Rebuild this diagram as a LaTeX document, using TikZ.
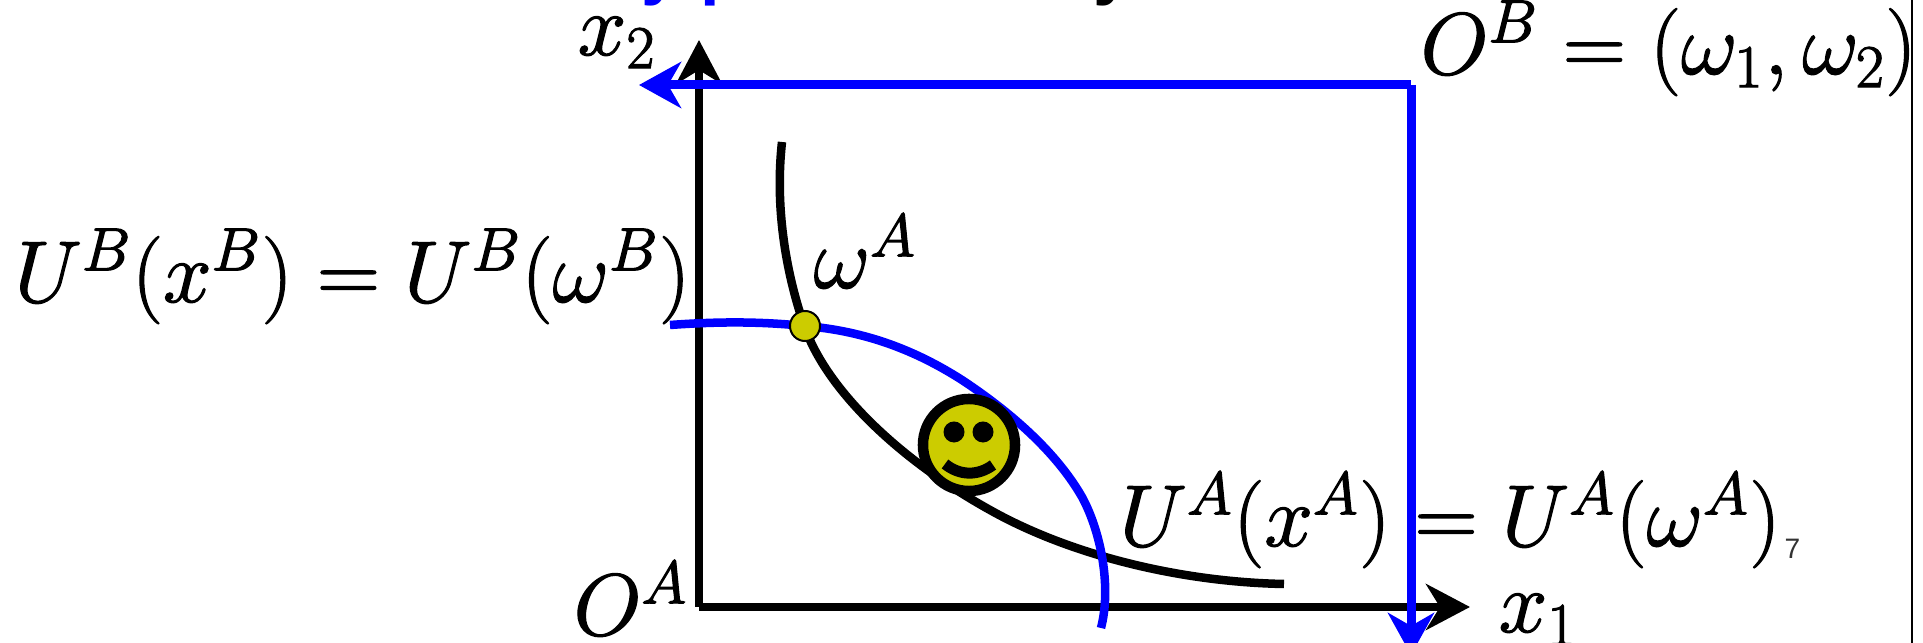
\documentclass[tikz,border=0pt]{standalone}
\usepackage{amsmath}
\usepackage{fontspec}
\setsansfont{Liberation Sans}
\usetikzlibrary{arrows.meta}

\definecolor{smiley}{RGB}{204,204,0}

\begin{document}
\begin{tikzpicture}[
  x=0.01cm, y=-0.01cm,
  axis/.style={-{Stealth[length=0.44cm,width=0.46cm,inset=0.14cm]}, line width=0.085cm, black},
  budget/.style={-{Stealth[length=0.42cm,width=0.46cm,inset=0.13cm]}, line width=0.09cm, blue},
  curve/.style={line width=0.085cm},
  lbl/.style={anchor=base west, inner sep=0pt, font=\fontsize{24}{28}\selectfont\special{pdf:code 2 Tr 0.35 w}},
  title/.style={anchor=base west, inner sep=0pt, font=\sffamily\bfseries\fontsize{20}{24}\selectfont},
  eye/.style={circle, fill=black, minimum size=0.21cm, inner sep=0pt}
]
\useasboundingbox (0,0) rectangle (1923,643);

%% Corners of the box
\coordinate (OA)  at (699,607);
\coordinate (x1)  at (1470,607);
\coordinate (x2)  at (699,40);
\coordinate (OB)  at (1411,85);
\coordinate (topend) at (639,85);
\coordinate (botend) at (1411,655);

%% Clipped title and page edge
\node[title, text=blue] at (641,-8)  (titlea) {y};
\node[title, text=blue] at (700,-8)  (titleb) {p};
\node[title]            at (1093,-8) (titlec) {y};
\draw[line width=0.02cm] (1912,0) -- (1912,643);

%% Axes
\draw[axis] (OA) -- (x2);
\draw[axis] (OA) -- (x1);
\draw[budget] (OB) -- (topend);
\draw[budget] (OB) -- (botend);

%% Indifference curves
\draw[curve, black] (782,142) .. controls (775,205) and (785,270) .. (804,325)
  .. controls (826,390) and (900,460) .. (990,510)
  .. controls (1070,555) and (1180,582) .. (1284,584);
\draw[curve, blue] (670,325) .. controls (725,321) and (765,322) .. (805,326)
  .. controls (865,331) and (915,350) .. (962,380)
  .. controls (1015,415) and (1058,455) .. (1082,497)
  .. controls (1100,530) and (1112,585) .. (1101,628);

%% Endowment point
\node[circle, draw, line width=0.02cm, fill=smiley, minimum size=0.3cm, inner sep=0pt] at (805,326) (endow) {};

%% Smiley
\node[circle, draw, line width=0.105cm, fill=smiley, minimum size=0.92cm, inner sep=0pt, outer sep=0pt] at (969,445) (face) {};
\node[eye] at (954,432) (eyel) {};
\node[eye] at (983,432) (eyer) {};
\draw[line width=0.11cm] (945,464) .. controls (960,476) and (978,476) .. (993,465);

%% Labels
\node[lbl] at (577,55)   (lx2)  {$x_2$};
\node[lbl] at (1420,74)  (lOB)  {$O^B=(\omega_1,\omega_2)$};
\node[lbl] at (14,302)   (lUB)  {$U^B(x^B)=U^B(\omega^B)$};
\node[lbl] at (813,288)  (lwA)  {$\omega^A$};
\node[lbl] at (1119,546) (lUA)  {$U^A(x^A)=U^A(\omega^A)$};
\node[lbl] at (573,635)  (lOA)  {$O^A$};
\node[lbl] at (1498,632) (lx1)  {$x_1$};
\node[anchor=base west, inner sep=0pt, font=\sffamily\fontsize{8}{10}\selectfont, text=black!80] at (1784,559) (page) {7};
\end{tikzpicture}
\end{document}
